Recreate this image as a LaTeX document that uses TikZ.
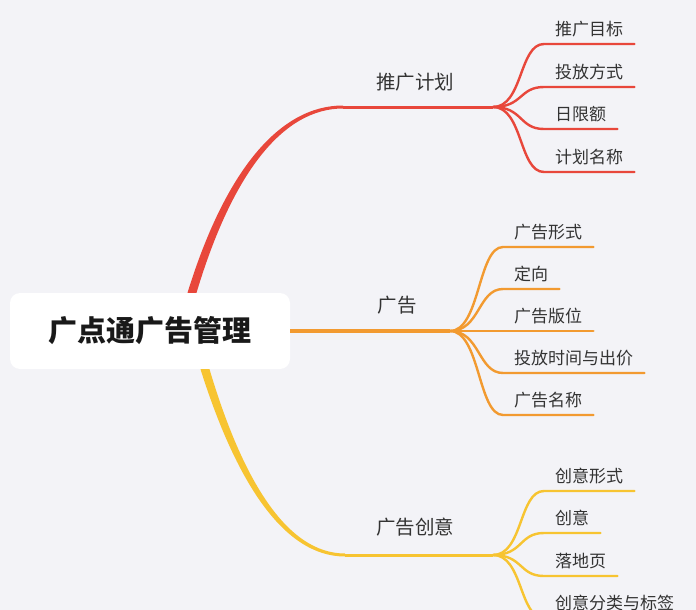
\documentclass[tikz,border=0pt]{standalone}
\usepackage{fontspec}
\setmainfont{Noto Sans CJK SC}
\definecolor{paleGray}{HTML}{F3F3F7}
\definecolor{mapRed}{HTML}{E8473B}
\definecolor{mapOrange}{HTML}{F29A30}
\definecolor{mapYellow}{HTML}{F7C431}
\definecolor{textGray}{HTML}{333333}

\begin{document}
\begin{tikzpicture}[x=1pt,y=-1pt,
    leaf/.style={anchor=south west,inner xsep=11pt,inner ysep=8pt,text depth=0pt,font=\fontsize{17}{17}\selectfont,text=textGray},
    topic/.style={font=\fontsize{19.5}{19.5}\selectfont,text=textGray},
    twig/.style={line width=2.4pt,line cap=round}]
    \fill[paleGray] (0,0) rectangle (696,610);
    \useasboundingbox (0,0) rectangle (696,610);
    \node[fill=white,rounded corners=10pt,minimum width=280pt,minimum height=76pt,font=\bfseries\fontsize{29}{29}\selectfont,text=black!90] (root) at (150,331) {广点通广告管理};
    % 推广计划
    \coordinate (planStart) at ([xshift=42pt]root.north);
    \coordinate (planKnee) at (343,107);
    \coordinate (planFork) at (493,107);
    \fill[mapRed] ([xshift=-4.5pt]planStart) .. controls +(38,-123) and +(-63,0) .. ([yshift=1.5pt]planKnee) -- ([yshift=-1.5pt]planKnee) .. controls +(-60,0) and +(36,-120) .. ([xshift=4.5pt]planStart) -- cycle;
    \draw[mapRed,line width=3pt] (planKnee) -- (planFork);
    \node[topic] (plan) at (415,82) {推广计划};
    \node[leaf] (planGoal) at (544,44) {推广目标};
    \node[leaf] (planWay) at (544,87) {投放方式};
    \node[leaf] (planBudget) at (544,129) {日限额};
    \node[leaf] (planName) at (544,172) {计划名称};
    \foreach \leafname in {planGoal,planWay,planBudget,planName}
        \draw[mapRed,twig] (planFork) .. controls +(30,0) and +(-25,0) .. (\leafname.south west) -- (\leafname.south east);
    % 广告
    \coordinate (adFork) at (450,331);
    \draw[mapOrange,line width=3.5pt] (root.east) -- (adFork);
    \node[topic] (ad) at (397,305) {广告};
    \node[leaf] (adForm) at (503,247) {广告形式};
    \node[leaf] (adTarget) at (503,289) {定向};
    \node[leaf] (adSlot) at (503,331) {广告版位};
    \node[leaf] (adBid) at (503,373) {投放时间与出价};
    \node[leaf] (adName) at (503,415) {广告名称};
    \foreach \leafname in {adForm,adTarget,adSlot,adBid,adName}
        \draw[mapOrange,twig] (adFork) .. controls +(30,0) and +(-25,0) .. (\leafname.south west) -- (\leafname.south east);
    % 广告创意
    \coordinate (ideaStart) at ([xshift=55pt]root.south);
    \coordinate (ideaKnee) at (345,555);
    \coordinate (ideaFork) at (493,555);
    \fill[mapYellow] ([xshift=-4.5pt]ideaStart) .. controls +(35,111) and +(-62,0) .. ([yshift=-1.5pt]ideaKnee) -- ([yshift=1.5pt]ideaKnee) .. controls +(-58,0) and +(33,111) .. ([xshift=4.5pt]ideaStart) -- cycle;
    \draw[mapYellow,line width=3pt] (ideaKnee) -- (ideaFork);
    \node[topic] (idea) at (415,527) {广告创意};
    \node[leaf] (ideaForm) at (544,491) {创意形式};
    \node[leaf] (ideaItem) at (544,533) {创意};
    \node[leaf] (ideaPage) at (544,576) {落地页};
    \node[leaf] (ideaTag) at (544,618) {创意分类与标签};
    \foreach \leafname in {ideaForm,ideaItem,ideaPage,ideaTag}
        \draw[mapYellow,twig] (ideaFork) .. controls +(30,0) and +(-25,0) .. (\leafname.south west) -- (\leafname.south east);
\end{tikzpicture}
\end{document}
